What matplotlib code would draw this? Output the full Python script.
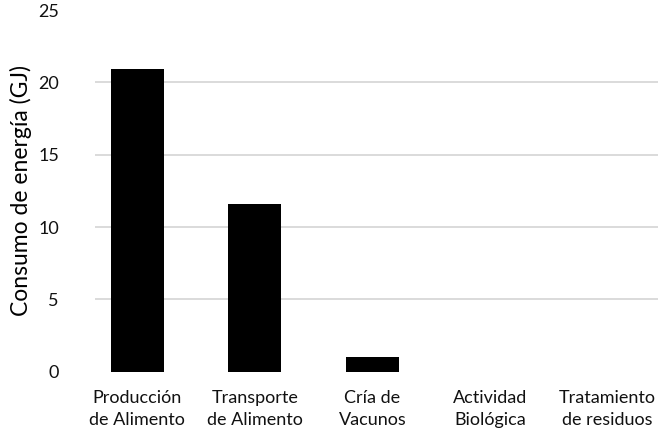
import matplotlib.pyplot as plt

plt.rcParams['font.family'] = ['Lato', 'DejaVu Sans']

categorias = ["Producción\nde Alimento", "Transporte\nde Alimento", "Cría de\nVacunos",
              "Actividad\nBiológica", "Tratamiento\nde residuos"]
consumo = [20.9, 11.6, 1.0, 0.0, 0.0]
ticks_y = [0, 5, 10, 15, 20, 25]

fig = plt.figure(figsize=(6.58, 4.32), dpi=100)
ax = fig.add_axes([0.1444, 0.1398, 0.8556, 0.8368])

pos = range(len(categorias))
ax.bar(pos, consumo, width=0.45, color='black', zorder=3)

ax.set_xlim(-0.36, 4.43)
ax.set_ylim(0, 25)
ax.set_xticks(list(pos))
ax.set_xticklabels(categorias, fontsize=13, color='#111111', linespacing=1.5)
ax.set_yticks(ticks_y)
ax.set_yticklabels([str(t) for t in ticks_y], fontsize=13, color='#111111')
ax.tick_params(axis='both', length=0)
ax.tick_params(axis='y', pad=26)
ax.tick_params(axis='x', pad=13)
ax.get_yticklabels()[-1].set_y(24.6)

ax.yaxis.grid(True, color='#d4d4d4', linewidth=1.2, zorder=0)
gl = ax.get_ygridlines()
gl[0].set_visible(False)
gl[-1].set_visible(False)

for s in ax.spines.values():
    s.set_visible(False)

ax.set_ylabel('Consumo de energía (GJ)', fontsize=16.5, color='#000000', labelpad=4)

fig.savefig('out.png', dpi=100)
